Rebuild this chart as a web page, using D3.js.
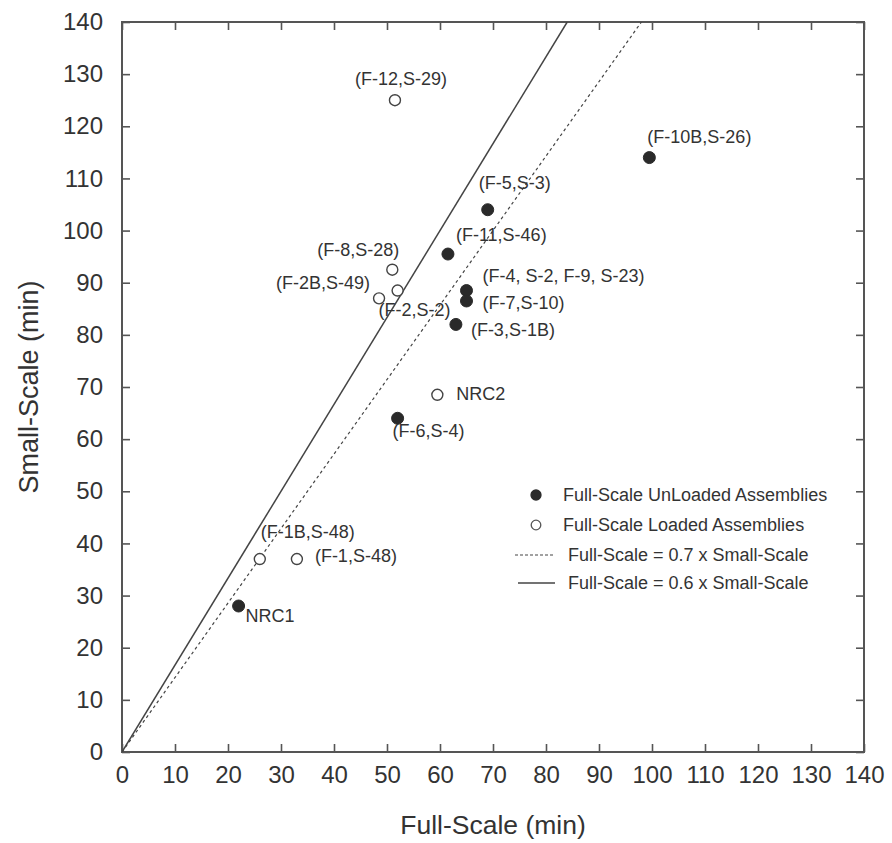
<!DOCTYPE html>
<html>
<head>
<meta charset="utf-8">
<script src="https://cdn.jsdelivr.net/npm/d3@7"></script>
<style>
  html, body { margin: 0; padding: 0; background: #ffffff; }
  svg { display: block; }
  text { font-family: "Liberation Sans", Arial, Helvetica, sans-serif; fill: #333; }
</style>
</head>
<body>
<svg id="chart" width="892" height="843"></svg>
<script>
// ---------- data ----------
const xTicks = [0,10,20,30,40,50,60,70,80,90,100,110,120,130,140];
const yTicks = [0,10,20,30,40,50,60,70,80,90,100,110,120,130,140];

const unloadedLabels = ["(F-10B,S-26)","(F-5,S-3)","(F-11,S-46)","(F-4, S-2, F-9, S-23)","(F-7,S-10)","(F-3,S-1B)","(F-6,S-4)","NRC1"];
const unloadedFull   = [99.5, 69, 61.5, 65, 65, 63, 52, 22];
const unloadedSmall  = [114, 104, 95.5, 88.5, 86.5, 82, 64, 28];

const loadedLabels = ["(F-12,S-29)","(F-8,S-28)","(F-2B,S-49)","(F-2,S-2)","NRC2","(F-1B,S-48)","(F-1,S-48)"];
const loadedFull   = [51.5, 51, 48.5, 52, 59.5, 26, 33];
const loadedSmall  = [125, 92.5, 87, 88.5, 68.5, 37, 37];

const ratioLines = [
  { name: "Full-Scale = 0.7 x Small-Scale", ratio: 0.7, dashed: true },
  { name: "Full-Scale = 0.6 x Small-Scale", ratio: 0.6, dashed: false }
];
const legendPoints = ["Full-Scale UnLoaded Assemblies", "Full-Scale Loaded Assemblies"];

const xTitle = "Full-Scale (min)";
const yTitle = "Small-Scale (min)";

// label placement (pixel offsets from the point)
const labelPlacement = {
  "(F-10B,S-26)": [-2, -15, "start"],
  "(F-5,S-3)": [-9, -21, "start"],
  "(F-11,S-46)": [8, -13, "start"],
  "(F-4, S-2, F-9, S-23)": [16, -9, "start"],
  "(F-7,S-10)": [16, 8, "start"],
  "(F-3,S-1B)": [15, 12, "start"],
  "(F-6,S-4)": [-5, 19, "start"],
  "NRC1": [7, 16, "start"],
  "(F-12,S-29)": [6, -15, "middle"],
  "(F-8,S-28)": [7, -14, "end"],
  "(F-2B,S-49)": [-9, -9, "end"],
  "(F-2,S-2)": [-19, 25, "start"],
  "NRC2": [19, 5, "start"],
  "(F-1B,S-48)": [1, -21, "start"],
  "(F-1,S-48)": [18, 3, "start"]
};

// ---------- layout ----------
const mLeft = 122, mRight = 864, mTop = 22, mBottom = 752;
const svg = d3.select("#chart");
const x = d3.scaleLinear().domain([0, 140]).range([mLeft, mRight]);
const y = d3.scaleLinear().domain([0, 140]).range([mBottom, mTop]);
const axisColor = "#555";

svg.append("rect").attr("width", 892).attr("height", 843).attr("fill", "#fff");

svg.append("defs").append("clipPath").attr("id", "plotclip")
  .append("rect").attr("x", mLeft).attr("y", mTop).attr("width", mRight - mLeft).attr("height", mBottom - mTop);

// axes
const gx = svg.append("g").attr("transform", `translate(0,${mBottom})`)
  .call(d3.axisBottom(x).tickValues(xTicks).tickSizeInner(-8).tickSizeOuter(0).tickPadding(14));
const gy = svg.append("g").attr("transform", `translate(${mLeft},0)`)
  .call(d3.axisLeft(y).tickValues(yTicks).tickSizeInner(-8).tickSizeOuter(0).tickPadding(19));
const gt = svg.append("g").attr("transform", `translate(0,${mTop})`)
  .call(d3.axisTop(x).tickValues(xTicks).tickSizeInner(-8).tickSizeOuter(0).tickFormat(""));
const gr = svg.append("g").attr("transform", `translate(${mRight},0)`)
  .call(d3.axisRight(y).tickValues(yTicks).tickSizeInner(-8).tickSizeOuter(0).tickFormat(""));

[gx, gy, gt, gr].forEach(g => {
  g.select(".domain").remove();
  g.selectAll(".tick line").attr("stroke", axisColor).attr("stroke-width", 1.6);
  g.selectAll(".tick text").attr("font-size", 24).attr("fill", "#333")
    .style("font-family", '"Liberation Sans", Arial, sans-serif');
});
// frame
svg.append("rect").attr("x", mLeft).attr("y", mTop).attr("width", mRight - mLeft).attr("height", mBottom - mTop)
  .attr("fill", "none").attr("stroke", axisColor).attr("stroke-width", 2);

// ratio lines
const plot = svg.append("g").attr("clip-path", "url(#plotclip)");
ratioLines.forEach(l => {
  plot.append("line")
    .attr("x1", x(0)).attr("y1", y(0))
    .attr("x2", x(140 * l.ratio)).attr("y2", y(140))
    .attr("stroke", "#444")
    .attr("stroke-width", l.dashed ? 1.2 : 1.5)
    .attr("stroke-dasharray", l.dashed ? "3,3" : null);
});

// points
function drawSeries(labels, xs, ys, filled) {
  labels.forEach((lab, i) => {
    const px = x(xs[i]), py = y(ys[i]);
    svg.append("circle").attr("cx", px).attr("cy", py)
      .attr("r", filled ? 6 : 5.5)
      .attr("fill", filled ? "#2a2a2a" : "#fff")
      .attr("stroke", filled ? "#2a2a2a" : "#444")
      .attr("stroke-width", filled ? 1 : 1.4);
    const p = labelPlacement[lab];
    svg.append("text").attr("x", px + p[0]).attr("y", py + p[1])
      .attr("text-anchor", p[2]).attr("font-size", 18).attr("fill", "#3a3a3a")
      .text(lab);
  });
}
drawSeries(loadedLabels, loadedFull, loadedSmall, false);
drawSeries(unloadedLabels, unloadedFull, unloadedSmall, true);

// legend
const lg = svg.append("g");
const legRows = [495, 525, 555, 583];
legendPoints.forEach((name, i) => {
  lg.append("circle").attr("cx", 536).attr("cy", legRows[i]).attr("r", i === 0 ? 5 : 4.8)
    .attr("fill", i === 0 ? "#2a2a2a" : "#fff").attr("stroke", i === 0 ? "#2a2a2a" : "#555").attr("stroke-width", 1.3);
  lg.append("text").attr("x", 563).attr("y", legRows[i] + 6).attr("font-size", 18).attr("fill", "#444").text(name);
});
ratioLines.forEach((l, i) => {
  const yy = legRows[i + 2];
  lg.append("line").attr("x1", l.dashed ? 515 : 518).attr("x2", 555).attr("y1", yy).attr("y2", yy)
    .attr("stroke", "#444").attr("stroke-width", l.dashed ? 1.1 : 1.4)
    .attr("stroke-dasharray", l.dashed ? "3,2" : null);
  lg.append("text").attr("x", 568).attr("y", yy + 6).attr("font-size", 18).attr("fill", "#444").text(l.name);
});

// axis titles
svg.append("text").attr("x", (mLeft + mRight) / 2).attr("y", 834).attr("text-anchor", "middle")
  .attr("font-size", 26.5).attr("fill", "#333").text(xTitle);
svg.append("text").attr("transform", `translate(38,${(mTop + mBottom) / 2}) rotate(-90)`)
  .attr("text-anchor", "middle").attr("font-size", 27).attr("fill", "#333").text(yTitle);
</script>
</body>
</html>
